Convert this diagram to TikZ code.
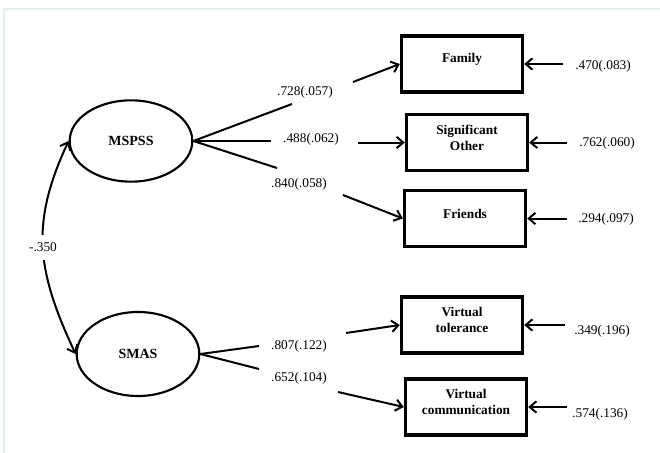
\documentclass[tikz,border=0pt]{standalone}
\usepackage{fontspec}
\setmainfont{Liberation Serif}
\usetikzlibrary{arrows.meta,shapes.geometric}
\begin{document}
\begin{tikzpicture}[x=0.75pt,y=-0.75pt,
  lat/.style={ellipse,draw,line width=1.6pt,minimum width=92pt,minimum height=61pt,font=\fontsize{10.5}{12}\selectfont\bfseries},
  obs/.style={rectangle,draw,line width=2.3pt,minimum width=91pt,minimum height=42pt},
  boxtxt/.style={font=\fontsize{10}{12}\selectfont\bfseries,align=center,yshift=3.5pt},
  lbl/.style={font=\fontsize{10}{12}\selectfont,inner sep=0pt},
  conn/.style={line width=1.5pt},
  arr/.style={line width=1.5pt,-{Straight Barb[length=5pt,width=8.5pt,line width=1.5pt]}},
  darr/.style={line width=1.5pt,{Straight Barb[length=5pt,width=8.5pt,line width=1.5pt]}-{Straight Barb[length=5pt,width=8.5pt,line width=1.5pt]}}
]
\useasboundingbox (0,0) rectangle (660,453);
\fill[white] (0,0) rectangle (660,453);
\draw[color={rgb,255:red,228;green,240;blue,238},line width=0.8pt] (4,453) -- (4,9) -- (660,9);

% latent variables
\node[lat] (mspss) at (131,141) {MSPSS};
\node[lat,minimum height=63pt] (smas) at (138,354) {SMAS};

% observed variables
\node[obs,label={[boxtxt]center:Family}] (fam) at (462,64) {};
\node[obs,label={[boxtxt]center:Significant\\Other}] (sig) at (467,142.5) {};
\node[obs,label={[boxtxt]center:Friends}] (fri) at (465,218.5) {};
\node[obs,label={[boxtxt]center:Virtual\\tolerance}] (vt) at (462,325) {};
\node[obs,label={[boxtxt]center:Virtual\\communication}] (vc) at (466,407) {};

% loading labels
\node[lbl] (l1) at (305,92) {.728(.057)};
\node[lbl] (l2) at (311,139) {.488(.062)};
\node[lbl] (l3) at (299,184) {.840(.058)};
\node[lbl] (l4) at (299,346) {.807(.122)};
\node[lbl] (l5) at (299,378) {.652(.104)};

% gap coordinates
\coordinate (g1a) at (292,104); \coordinate (g1b) at (353,82);
\coordinate (g2a) at (271,141); \coordinate (g2b) at (358,142.5);
\coordinate (g3a) at (277,168); \coordinate (g3b) at (343,195);
\coordinate (g4a) at (259,346); \coordinate (g4b) at (346,333);
\coordinate (g5a) at (259,369); \coordinate (g5b) at (338,392);

\draw[conn] (mspss.east) -- (g1a); \draw[arr] (g1b) -- (fam.west);
\draw[conn] (mspss.east) -- (g2a); \draw[arr] (g2b) -- (sig.west);
\draw[conn] (mspss.east) -- (g3a); \draw[arr] (g3b) -- (fri.west);
\draw[conn] (smas.east) -- (g4a); \draw[arr] (g4b) -- (vt.west);
\draw[conn] (smas.east) -- (g5a); \draw[arr] (g5b) -- (vc.west);

% error terms
\coordinate (e1) at (563,64);
\coordinate (e2) at (567,142.5);
\coordinate (e3) at (567,218.5);
\coordinate (e4) at (565,325);
\coordinate (e5) at (567,407);
\draw[arr] (e1) -- (fam.east);
\draw[arr] (e2) -- (sig.east);
\draw[arr] (e3) -- (fri.east);
\draw[arr] (e4) -- (vt.east);
\draw[arr] (e5) -- (vc.east);
\node[lbl,anchor=west] (r1) at (575,66) {.470(.083)};
\node[lbl,anchor=west] (r2) at (579,143) {.762(.060)};
\node[lbl,anchor=west] (r3) at (578,219) {.294(.097)};
\node[lbl,anchor=west] (r4) at (574,331) {.349(.196)};
\node[lbl,anchor=west] (r5) at (572,414) {.574(.136)};

% covariance
\draw[darr] (mspss.west) to[out=245,in=115,looseness=1.1]
  node[fill=white,font=\fontsize{10}{12}\selectfont,inner xsep=1pt,inner ysep=6pt] (cov) {-.350} (smas.west);
\end{tikzpicture}
\end{document}
